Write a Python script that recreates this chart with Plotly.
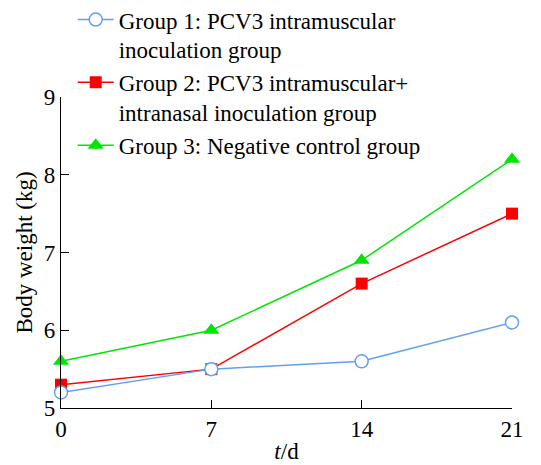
import plotly.graph_objects as go

days = [0, 7, 14, 21]
group1 = [5.2, 5.5, 5.6, 6.1]
group2 = [5.3, 5.5, 6.6, 7.5]
group3 = [5.6, 6.0, 6.9, 8.2]
names = ["Group 1: PCV3 intramuscular<br>inoculation group",
         "Group 2: PCV3 intramuscular+<br>intranasal inoculation group",
         "Group 3: Negative control group"]

FONT = "Liberation Serif"

fig = go.Figure()
fig.add_trace(go.Scatter(x=days, y=group3, name=names[2], mode="lines+markers",
                         legendgroup="g3",
                         line=dict(color="#00e600", width=1.5),
                         marker=dict(symbol="triangle-up", size=14, color="#00e600")))
fig.add_trace(go.Scatter(x=days, y=group2, name=names[1], mode="lines+markers",
                         legendgroup="g2",
                         line=dict(color="#ff0000", width=1.5),
                         marker=dict(symbol="square", size=12, color="#ff0000")))
fig.add_trace(go.Scatter(x=days, y=group1, name=names[0], mode="lines+markers",
                         legendgroup="g1",
                         line=dict(color="#62a0ee", width=1.5),
                         marker=dict(symbol="circle", size=13, color="white",
                                     line=dict(color="#62a0ee", width=1.5))))
for tr in fig.data:
    tr.cliponaxis = False

fig.update_layout(
    template="none",
    width=533, height=457,
    margin=dict(l=53, r=29, t=89, b=57, autoexpand=False),
    paper_bgcolor="white", plot_bgcolor="white",
    font=dict(family=FONT, size=23, color="black"),
    showlegend=True,
    legend=dict(x=0.026, y=1.318, xanchor="left", yanchor="top", valign="top",
                traceorder="reversed", font=dict(family=FONT, size=23),
                itemwidth=36,
                bgcolor="rgba(0,0,0,0)", tracegroupgap=7),
    xaxis=dict(range=[0, 21], tickvals=days, ticktext=[str(d) for d in days],
               ticks="inside", ticklen=8, tickwidth=1.3, tickcolor="black",
               showline=True, linecolor="black", linewidth=1.3,
               showgrid=False, zeroline=False, automargin=False,
               tickfont=dict(family=FONT, size=23),
               title=dict(text="<i>t</i>/d", standoff=2, font=dict(family=FONT, size=23))),
    yaxis=dict(range=[5, 9], tickvals=[5, 6, 7, 8, 9],
               ticks="inside", ticklen=8, tickwidth=1.3, tickcolor="black",
               showline=True, linecolor="black", linewidth=1.3,
               showgrid=False, zeroline=False, automargin=False,
               tickfont=dict(family=FONT, size=23),
               title=dict(text="Body weight (kg)", standoff=4, font=dict(family=FONT, size=23))),
)
fig.write_html("out.html")
